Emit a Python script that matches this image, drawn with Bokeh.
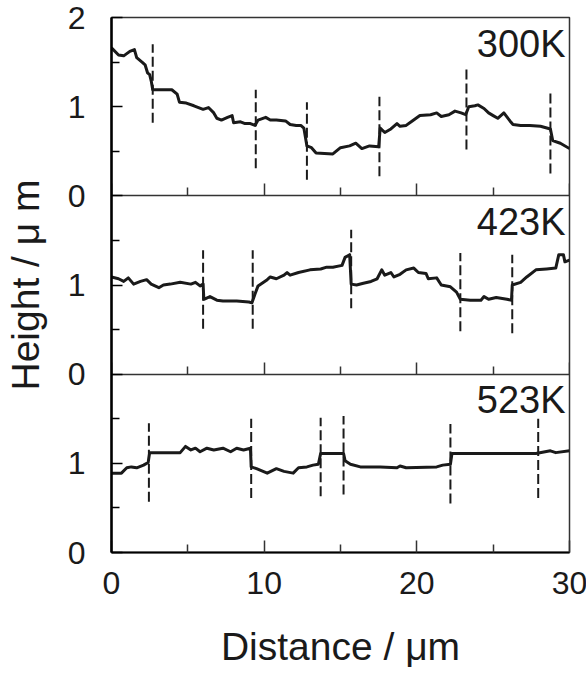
from bokeh.plotting import figure
from bokeh.models import Range1d, LinearAxis, FixedTicker, Label
from bokeh.embed import file_html
from bokeh.resources import INLINE

# ---------------- data ----------------
panel_names = ["300K", "423K", "523K"]
x_ticks = [0, 10, 20, 30]
x_minor_ticks = [5, 15, 25]
# left axis: one tick per unit over the three stacked panels (bottom to top)
y_tick_labels = ["0", "1", "0", "1", "0", "1", "2"]

x300 = [0, 0.46, 0.8, 1.2, 1.5, 1.65, 2.0, 2.2, 2.36, 2.5, 2.6, 2.7, 2.95, 3.95, 4.3, 4.45, 4.9, 5.4,
        5.7, 6.0, 6.35, 6.7, 6.9, 7.2, 7.6, 7.9, 8.0, 8.45, 8.75, 9.1, 9.4, 9.6, 10.1, 10.4, 10.8,
        11.4, 11.7, 12.1, 12.4, 12.6, 12.8, 13.1, 13.4, 14.5, 15.0, 15.6, 16.0, 16.4, 16.9, 17.5,
        17.6, 17.9, 18.3, 18.7, 18.9, 19.3, 19.7, 20.2, 20.9, 21.3, 21.6, 22.1, 22.5, 22.9, 23.2,
        23.4, 23.8, 24.0, 24.4, 24.7, 25.0, 25.3, 25.7, 26.1, 26.3, 26.8, 27.4, 28.1, 28.75, 28.9,
        29.4, 30]
y300 = [1.66, 1.58, 1.57, 1.62, 1.64, 1.55, 1.50, 1.47, 1.38, 1.36, 1.29, 1.19, 1.19, 1.19, 1.14,
        1.05, 1.04, 1.01, 0.99, 0.97, 0.99, 0.93, 0.87, 0.85, 0.88, 0.90, 0.82, 0.83, 0.81, 0.81,
        0.79, 0.85, 0.88, 0.85, 0.85, 0.84, 0.80, 0.79, 0.79, 0.76, 0.56, 0.54, 0.48, 0.47, 0.54,
        0.56, 0.59, 0.53, 0.56, 0.55, 0.76, 0.71, 0.75, 0.81, 0.78, 0.79, 0.84, 0.90, 0.91, 0.93,
        0.89, 0.91, 0.95, 0.93, 0.91, 1.00, 1.01, 1.02, 0.98, 0.93, 0.90, 0.87, 0.93, 0.84, 0.80,
        0.79, 0.79, 0.78, 0.75, 0.62, 0.59, 0.53]

x423 = [0, 0.46, 0.8, 1.1, 1.45, 1.9, 2.3, 2.6, 3.1, 3.4, 3.85, 4.5, 5.2, 5.5, 5.8, 6.0, 6.05, 6.45,
        6.9, 7.3, 8.2, 9.0, 9.2, 9.4, 9.6, 10.2, 10.4, 10.8, 11.3, 11.5, 11.7, 12.25, 13.0, 13.7,
        14.1, 14.5, 15.1, 15.3, 15.6, 15.7, 16.05, 16.5, 17.0, 17.4, 17.7, 17.9, 18.3, 18.5, 18.9,
        19.3, 19.8, 20.1, 20.6, 20.75, 21.3, 21.6, 22.2, 22.6, 22.85, 23.5, 24.2, 24.4, 24.7, 25.2,
        25.9, 26.2, 26.25, 26.8, 27.2, 27.8, 28.5, 29.1, 29.3, 29.6, 29.7, 30]
y423 = [1.09, 1.07, 1.04, 1.08, 1.01, 1.04, 1.06, 1.01, 0.97, 1.00, 1.01, 1.03, 1.01, 1.03, 0.99,
        1.01, 0.84, 0.87, 0.83, 0.82, 0.82, 0.81, 0.80, 0.90, 0.99, 1.06, 1.09, 1.07, 1.11, 1.14,
        1.11, 1.14, 1.17, 1.18, 1.20, 1.20, 1.22, 1.31, 1.34, 1.01, 1.00, 1.02, 1.04, 1.07, 1.17,
        1.11, 1.14, 1.09, 1.12, 1.17, 1.19, 1.14, 1.13, 1.07, 1.08, 1.00, 0.98, 0.92, 0.84, 0.83,
        0.83, 0.87, 0.84, 0.86, 0.84, 0.83, 1.00, 1.03, 1.09, 1.17, 1.18, 1.19, 1.34, 1.34, 1.26,
        1.28]

x523 = [0, 0.65, 1.0, 1.3, 1.65, 2.1, 2.4, 2.5, 4.5, 4.85, 5.2, 5.5, 5.8, 6.25, 6.7, 7.3, 7.8, 8.2,
        8.65, 9.1, 9.15, 9.5, 10.2, 10.8, 11.3, 11.9, 12.25, 12.8, 13.2, 13.55, 13.7, 15.2, 15.3,
        15.65, 16.3, 17.6, 18.7, 18.9, 19.3, 21.3, 21.7, 22.2, 22.3, 27.8, 28.75, 29.1, 30]
y523 = [0.89, 0.89, 0.95, 0.96, 0.95, 0.98, 1.01, 1.12, 1.12, 1.19, 1.15, 1.17, 1.13, 1.17, 1.15,
        1.17, 1.13, 1.17, 1.15, 1.17, 0.96, 0.94, 0.89, 0.94, 0.91, 0.89, 0.95, 0.96, 0.98, 0.99,
        1.11, 1.11, 1.03, 0.99, 0.96, 0.96, 0.95, 0.97, 0.95, 0.96, 0.98, 0.99, 1.11, 1.11, 1.14,
        1.12, 1.14]

# boundary markers (dashed lines): position, lower end, upper end
m300_x = [2.7, 9.45, 12.8, 17.55, 23.25, 28.75]
m300_lo = [0.82, 0.31, 0.18, 0.22, 0.52, 0.25]
m300_hi = [1.70, 1.19, 1.05, 1.11, 1.42, 1.15]

m423_x = [6.0, 9.25, 15.7, 22.85, 26.25]
m423_lo = [0.51, 0.51, 0.74, 0.48, 0.46]
m423_hi = [1.39, 1.39, 1.62, 1.36, 1.34]

m523_x = [2.45, 9.15, 13.7, 15.2, 22.2, 27.95]
m523_lo = [0.57, 0.61, 0.63, 0.65, 0.55, 0.61]
m523_hi = [1.45, 1.50, 1.51, 1.53, 1.44, 1.50]

# ---------------- figure ----------------
FONT = "Liberation Sans"
INK = "#1a1a1a"

p = figure(frame_width=458, frame_height=535,
           x_range=Range1d(0, 30), y_range=Range1d(0, len(y_tick_labels) - 1),
           x_axis_location=None, y_axis_location=None,
           output_backend="svg", toolbar_location=None,
           min_border_left=108, min_border_right=20, min_border_top=17, min_border_bottom=100)
p.outline_line_color = "#333333"
p.outline_line_width = 1.5
p.background_fill_color = "white"
for g in p.grid:
    g.visible = False

# each panel shows 0..2 in its own third of the frame
p.extra_y_ranges = {
    "top": Range1d(-4, 2),
    "mid": Range1d(-2, 4),
    "bot": Range1d(0, 6),
}

# shared left axis over the stacked panels
yt = list(range(len(y_tick_labels)))
yax = LinearAxis(ticker=FixedTicker(ticks=yt, minor_ticks=[t + 0.5 for t in yt[:-1]]),
                 major_label_overrides={t: s for t, s in zip(yt, y_tick_labels)})
yax.axis_line_color = "black"
yax.axis_line_width = 2.5
yax.major_tick_in = 11
yax.major_tick_out = 0
yax.minor_tick_in = 8
yax.minor_tick_out = 0
yax.major_tick_line_width = 1.5
yax.minor_tick_line_width = 1.5
yax.major_label_standoff = 26
yax.major_label_text_font = FONT
yax.major_label_text_font_size = "32px"
yax.major_label_text_color = INK
yax.axis_label = "Height / \u03bc m"
yax.axis_label_standoff = 18
yax.axis_label_text_font = FONT
yax.axis_label_text_font_size = "39px"
yax.axis_label_text_font_style = "normal"
yax.axis_label_text_color = INK
p.add_layout(yax, "left")

panels = [
    ("top", x300, y300, m300_x, m300_lo, m300_hi, panel_names[0]),
    ("mid", x423, y423, m423_x, m423_lo, m423_hi, panel_names[1]),
    ("bot", x523, y523, m523_x, m523_lo, m523_hi, panel_names[2]),
]

for name, xs, ys, mx, mlo, mhi, lab in panels:
    p.segment(x0=mx, y0=mlo, x1=mx, y1=mhi, y_range_name=name,
              line_color=INK, line_width=2, line_dash="10 4")
    p.line(xs, ys, y_range_name=name, line_color=INK, line_width=3, line_join="round")

    if name != "bot":
        xax = LinearAxis(y_range_name=name, fixed_location=0,
                         ticker=FixedTicker(ticks=x_ticks, minor_ticks=x_minor_ticks))
        xax.axis_line_color = "#333333"
        xax.axis_line_width = 1.5
        xax.major_label_text_color = None
    else:
        xax = LinearAxis(ticker=FixedTicker(ticks=x_ticks, minor_ticks=x_minor_ticks))
        xax.axis_line_color = "black"
        xax.axis_line_width = 2
        xax.major_label_standoff = 19
        xax.major_label_text_font = FONT
        xax.major_label_text_font_size = "32px"
        xax.major_label_text_color = INK
        xax.axis_label = "Distance / \u03bcm"
        xax.axis_label_standoff = 28
        xax.axis_label_text_font = FONT
        xax.axis_label_text_font_size = "39px"
        xax.axis_label_text_font_style = "normal"
        xax.axis_label_text_color = INK
    xax.major_tick_in = 12
    xax.major_tick_out = 0
    xax.minor_tick_in = 8
    xax.minor_tick_out = 0
    xax.major_tick_line_width = 1.5
    xax.minor_tick_line_width = 1.5
    xax.major_tick_line_color = "#333333"
    xax.minor_tick_line_color = "#333333"
    p.add_layout(xax, "below")

    p.add_layout(Label(x=30, y=2, y_range_name=name, text=lab,
                       text_align="right", text_baseline="top",
                       x_offset=-4, y_offset=-5,
                       text_font=FONT, text_font_size="38px", text_color=INK))

open("out.html", "w").write(file_html(p, INLINE))
